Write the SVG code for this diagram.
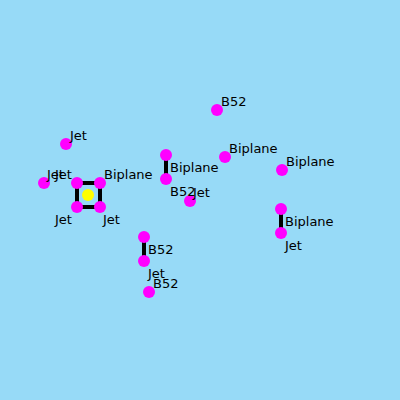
<svg xmlns="http://www.w3.org/2000/svg" width="400" height="400" viewBox="0 0 400 400">
<style>
.n{fill:#ff00ff}
.e{stroke:#000;stroke-width:4;fill:none}
text{font-family:"DejaVu Sans",sans-serif;font-size:13px;fill:#000}
</style>
<rect width="400" height="400" fill="#97daf7"/>
<g id="connectors">
<path class="e" d="M77,183H100V207H77Z"/>
<line class="e" x1="166" y1="155" x2="166" y2="179"/>
<line class="e" x1="144" y1="237" x2="144" y2="261"/>
<line class="e" x1="281" y1="209" x2="281" y2="233"/>
</g>
<g id="center"><circle cx="88" cy="195" r="6" fill="#ffff00"/></g>
<g id="n1"><circle class="n" cx="66" cy="144" r="6"/><text x="70" y="140">Jet</text></g>
<g id="n2"><circle class="n" cx="44" cy="183" r="6"/><text x="47" y="179">Jet</text></g>
<g id="n3"><circle class="n" cx="77" cy="183" r="6"/><text x="55" y="179">Jet</text></g>
<g id="n4"><circle class="n" cx="100" cy="183" r="6"/><text x="104" y="179">Biplane</text></g>
<g id="n5"><circle class="n" cx="77" cy="207" r="6"/><text x="55" y="224">Jet</text></g>
<g id="n6"><circle class="n" cx="100" cy="207" r="6"/><text x="103" y="224">Jet</text></g>
<g id="n7"><circle class="n" cx="166" cy="155" r="6"/></g>
<g id="n8"><circle class="n" cx="166" cy="179" r="6"/><text x="170" y="172">Biplane</text></g>
<g id="n9"><circle class="n" cx="217" cy="110" r="6"/><text x="221" y="106">B52</text></g>
<g id="n10"><circle class="n" cx="225" cy="157" r="6"/><text x="229" y="153">Biplane</text></g>
<g id="n11"><circle class="n" cx="282" cy="170" r="6"/><text x="286" y="166">Biplane</text></g>
<g id="n12"><circle class="n" cx="190" cy="201" r="6"/><text x="170" y="196">B52</text><text x="193" y="197">Jet</text></g>
<g id="n13"><circle class="n" cx="144" cy="237" r="6"/><text x="148" y="254">B52</text></g>
<g id="n14"><circle class="n" cx="144" cy="261" r="6"/><text x="148" y="278">Jet</text></g>
<g id="n15"><circle class="n" cx="149" cy="292" r="6"/><text x="153" y="288">B52</text></g>
<g id="n16"><circle class="n" cx="281" cy="209" r="6"/><text x="285" y="226">Biplane</text></g>
<g id="n17"><circle class="n" cx="281" cy="233" r="6"/><text x="285" y="250">Jet</text></g>
</svg>
